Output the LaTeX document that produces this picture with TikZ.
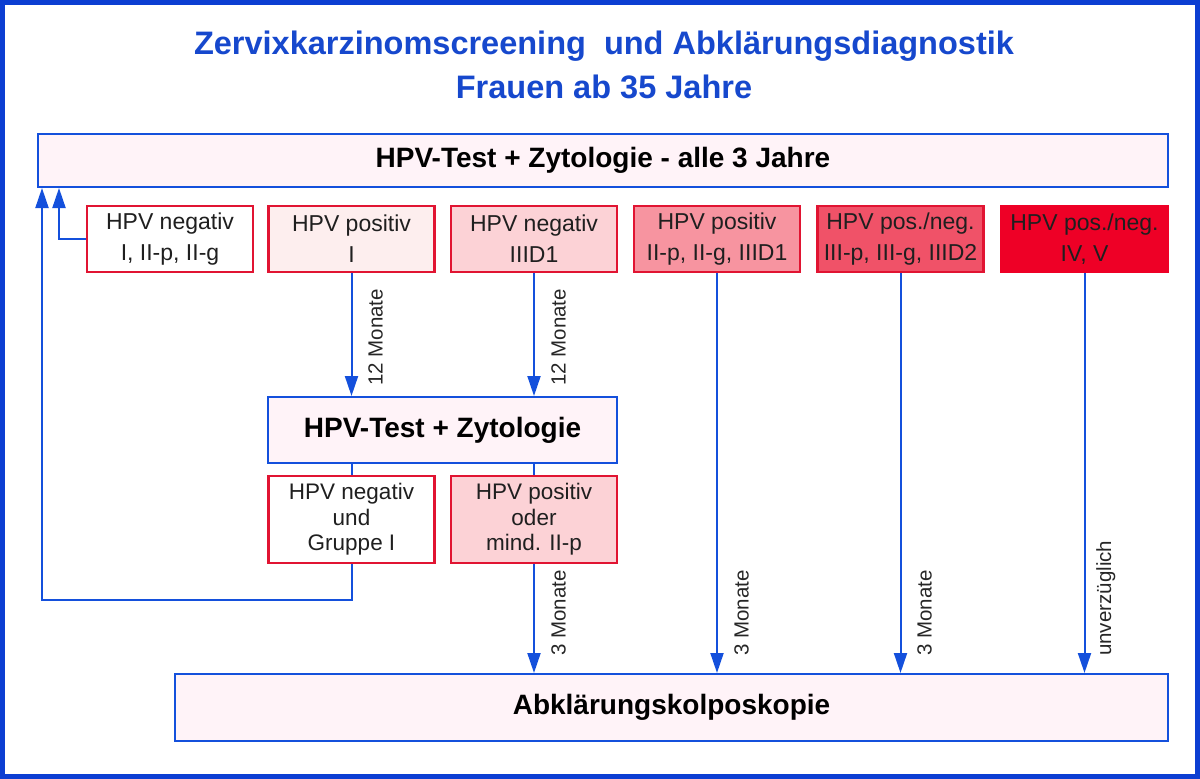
\documentclass[tikz,border=0pt]{standalone}
\usepackage{fontspec}
\setmainfont{Liberation Sans}
\usetikzlibrary{arrows.meta}
\definecolor{bblue}{RGB}{12,62,210}
\definecolor{lblue}{RGB}{20,80,220}
\definecolor{tblue}{RGB}{22,72,205}
\definecolor{bred}{RGB}{225,20,50}
\definecolor{pinkA}{RGB}{255,243,248}
\definecolor{pinkB}{RGB}{253,238,238}
\definecolor{pinkC}{RGB}{252,210,214}
\definecolor{pinkD}{RGB}{247,148,160}
\definecolor{pinkE}{RGB}{240,82,104}
\definecolor{redF}{RGB}{238,0,38}
\begin{document}
\begin{tikzpicture}[x=1pt,y=-1pt,
  bigbox/.style={draw=lblue,line width=2pt,fill=pinkA,font=\bfseries\fontsize{28}{30}\selectfont,inner sep=0pt},
  rbox/.style={draw=bred,line width=2.2pt,minimum width=166pt,inner sep=0pt,align=center,font=\fontsize{23}{31}\selectfont,text=black!88},
  rowbox/.style={rbox,minimum height=66pt,execute at begin node={\rule{0pt}{28pt}}},
  conn/.style={draw=lblue,line width=2pt},
  arr/.style={conn,-{Triangle[width=13pt,length=20pt]}},
  lab/.style={rotate=90,anchor=north west,font=\fontsize{20.5}{22}\selectfont,inner sep=0pt,text=black!85}]
\useasboundingbox (0,0) rectangle (1200,779);
\draw[bblue,line width=5pt] (2.5,2.5) rectangle (1197.5,776.5);
% title
\node[font=\bfseries\fontsize{32.5}{44}\selectfont,text=tblue,align=center] (title) at (604,65)
  {Zervixkarzinomscreening\ \ und Abklärungsdiagnostik\\Frauen ab 35 Jahre};
% top box
\node[bigbox,minimum width=1130pt,minimum height=53pt] (top) at (603,160.5) {HPV-Test + Zytologie - alle 3 Jahre};
% row boxes
\node[rowbox,fill=white] (b1) at (170,239) {HPV negativ\\I, II-p, II-g};
\node[rowbox,fill=pinkB] (b2) at (351.5,239) {HPV positiv\\I};
\node[rowbox,fill=pinkC] (b3) at (534,239) {HPV negativ\\IIID1};
\node[rowbox,fill=pinkD] (b4) at (717,239) {HPV positiv\\II-p, II-g, IIID1};
\node[rowbox,fill=pinkE] (b5) at (900.5,239) {HPV pos./neg.\\III-p, III-g, IIID2};
\node[rowbox,fill=redF,draw=redF] (b6) at (1084.5,239) {HPV pos./neg.\\IV, V};
% middle box
\node[bigbox,minimum width=349pt,minimum height=66pt] (mid) at (442.5,430) {HPV-Test + Zytologie};
% sub boxes
\node[rbox,fill=white,minimum height=87pt,font=\fontsize{22.5}{25.5}\selectfont] (s1) at (351.5,519.5) {HPV negativ\\und\\Gruppe I};
\node[rbox,fill=pinkC,minimum height=87pt,font=\fontsize{22.5}{25.5}\selectfont] (s2) at (534,519.5) {HPV positiv\\oder\\mind. II-p};
% bottom box
\node[bigbox,minimum width=993pt,minimum height=67pt] (bot) at (671.5,707.5) {Abklärungskolposkopie};
% coordinates
\coordinate (c1) at (59,239);
\coordinate (c2) at (351.5,600);
\coordinate (c3) at (42,600);
% feedback arrows
\draw[arr] (b1.west) -- (c1) -- (c1 |- top.south);
\draw[arr] (s1.south) -- (c2) -- (c3) -- (c3 |- top.south);
% 12 Monate
\draw[arr] (b2.south) -- (b2.south |- mid.north);
\draw[arr] (b3.south) -- (b3.south |- mid.north);
\node[lab] (l1) at (368,386) {12 Monate};
\node[lab] (l2) at (551,386) {12 Monate};
% mid to sub
\draw[conn] (mid.south -| s1.north) -- (s1.north);
\draw[conn] (mid.south -| s2.north) -- (s2.north);
% to bottom
\draw[arr] (s2.south) -- (s2.south |- bot.north);
\draw[arr] (b4.south) -- (b4.south |- bot.north);
\draw[arr] (b5.south) -- (b5.south |- bot.north);
\draw[arr] (b6.south) -- (b6.south |- bot.north);
\node[lab] (l3) at (551,656) {3 Monate};
\node[lab] (l4) at (734,656) {3 Monate};
\node[lab] (l5) at (917,656) {3 Monate};
\node[lab] (l6) at (1096,656) {unverzüglich};
\end{tikzpicture}
\end{document}
